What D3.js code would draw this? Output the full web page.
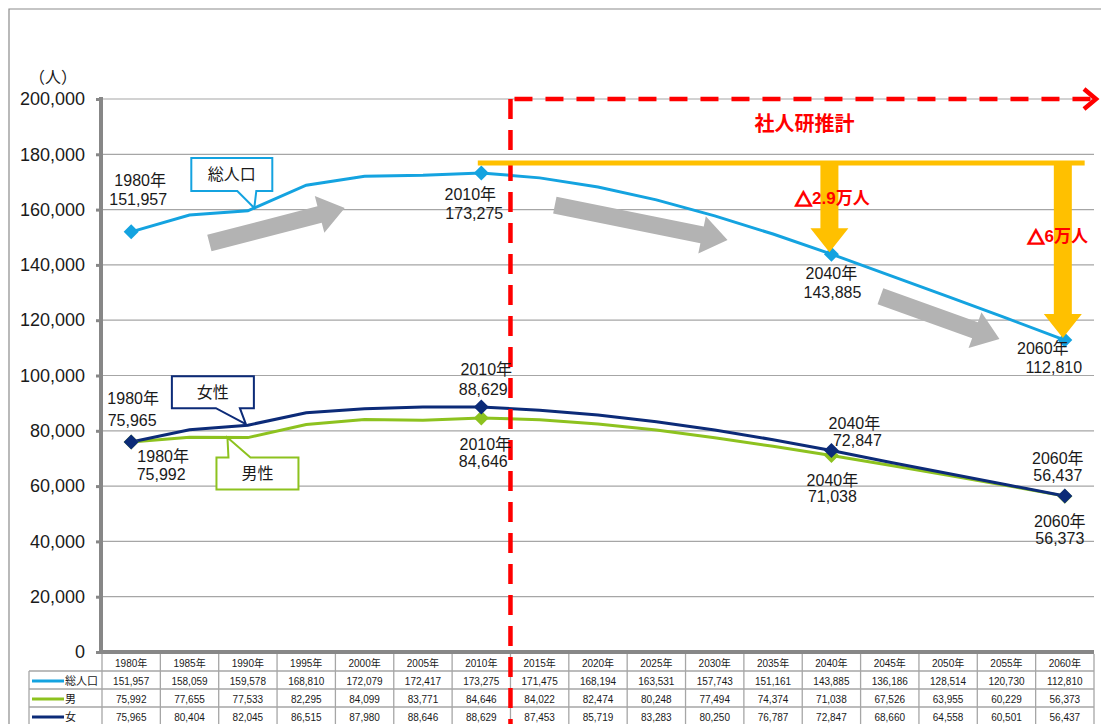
<!DOCTYPE html>
<html><head><meta charset="utf-8">
<script src="https://cdn.jsdelivr.net/npm/d3@7"></script>
<style>
body{margin:0;background:#fff}
svg{display:block}
text{font-family:"Liberation Sans",Arial,"Noto Sans CJK JP",sans-serif;fill:#1a1a1a}
</style>
</head><body>
<svg id="c" width="1101" height="724"></svg>
<script>
// ---------- data ----------
const years = [1980,1985,1990,1995,2000,2005,2010,2015,2020,2025,2030,2035,2040,2045,2050,2055,2060];
const yearLabels = years.map(y => y + "年");
const totalPop = [151957,158059,159578,168810,172079,172417,173275,171475,168194,163531,157743,151161,143885,136186,128514,120730,112810];
const male     = [75992,77655,77533,82295,84099,83771,84646,84022,82474,80248,77494,74374,71038,67526,63955,60229,56373];
const female   = [75965,80404,82045,86515,87980,88646,88629,87453,85719,83283,80250,76787,72847,68660,64558,60501,56437];
const yTicks   = [0,20000,40000,60000,80000,100000,120000,140000,160000,180000,200000];
const seriesNames = ["総人口","男","女"];
const markerYears = [1980,2010,2040,2060];
const projStartYear = 2012.5;         // 社人研推計 boundary
const baseLevel = 176850;             // level of the yellow reference line
const dropLabels = [["△","2.9万人"],["△","6万人"]];
const dropYears = [2040,2060];

// ---------- layout ----------
const W = 1101, H = 724;
const plot = {l:102, r:1094, t:99, b:652};
const svg = d3.select("#c");
const fmt = d3.format(",");

const xb = d3.scaleBand().domain(years).range([plot.l, plot.r]).paddingInner(0).paddingOuter(0);
const bw = xb.bandwidth();
const x = d => xb(d) + bw/2;
const xl = d3.scaleLinear().domain([years[0], years[years.length-1]]).range([x(years[0]), x(years[years.length-1])]);
const y = d3.scaleLinear().domain([0,200000]).range([plot.b, plot.t]);

const colors = {total:"#14A3E0", male:"#8DC21F", female:"#0C2B78"};
const gridC = "#A6A6A6", axisC = "#878787";

// outer frame
svg.append("path").attr("d",`M9,${H} L9,9 L${W},9`).attr("fill","none").attr("stroke","#8c8c8c").attr("stroke-width",1.2);

// grid
svg.append("g").selectAll("line").data(yTicks.filter(d=>d>0)).join("line")
  .attr("x1",plot.l).attr("x2",plot.r).attr("y1",d=>y(d)).attr("y2",d=>y(d))
  .attr("stroke",gridC).attr("stroke-width",1.2);

// y axis
const yAxis = svg.append("g").attr("transform",`translate(${plot.l-1},0)`)
  .call(d3.axisLeft(y).tickValues(yTicks).tickFormat(d=>fmt(d)).tickSize(5).tickPadding(11));
yAxis.select(".domain").remove();
yAxis.selectAll(".tick line").attr("stroke",axisC).attr("stroke-width",3);
yAxis.selectAll(".tick text").attr("font-size",18).attr("fill","#1a1a1a");
svg.append("line").attr("x1",plot.l-1).attr("x2",plot.l-1).attr("y1",plot.t-2).attr("y2",plot.b+2)
  .attr("stroke",axisC).attr("stroke-width",4);
svg.append("text").attr("x",53).attr("y",77).attr("text-anchor","middle").attr("dominant-baseline","central")
  .attr("font-size",16).text("（人）");

// ---------- table ----------
const tbl = svg.append("g");
const rowB = [654, 671, 689, 707, 725];
const legL = 29;
tbl.selectAll("line.v").data(years.concat(["end"])).join("line")
  .attr("x1",d=>d==="end"?plot.r:xb(d)).attr("x2",d=>d==="end"?plot.r:xb(d))
  .attr("y1",rowB[0]).attr("y2",H).attr("stroke",gridC).attr("stroke-width",1.3);
tbl.append("line").attr("x1",legL).attr("x2",legL).attr("y1",rowB[1]).attr("y2",H).attr("stroke",gridC).attr("stroke-width",1.3);
[1,2,3].forEach(i=>{
  tbl.append("line").attr("x1",legL).attr("x2",plot.r).attr("y1",rowB[i]).attr("y2",rowB[i]).attr("stroke",gridC).attr("stroke-width",1.3);
});
tbl.selectAll("text.h").data(years).join("text")
  .attr("x",d=>x(d)).attr("y",(rowB[0]+rowB[1])/2+1).attr("text-anchor","middle").attr("dominant-baseline","central")
  .attr("font-size",10).text((d,i)=>yearLabels[i]);
const rowsData = [totalPop, male, female];
const rowColors = [colors.total, colors.male, colors.female];
rowsData.forEach((arr,ri)=>{
  const cy = (rowB[ri+1]+rowB[ri+2])/2+1;
  tbl.append("g").selectAll("text").data(arr).join("text")
    .attr("x",(d,i)=>x(years[i])).attr("y",cy).attr("text-anchor","middle").attr("dominant-baseline","central")
    .attr("font-size",10).text(d=>fmt(d));
  tbl.append("line").attr("x1",32).attr("x2",64).attr("y1",cy).attr("y2",cy).attr("stroke",rowColors[ri]).attr("stroke-width",3);
  tbl.append("text").attr("x",65).attr("y",cy).attr("dominant-baseline","central").attr("font-size",11).text(seriesNames[ri]);
});

// x axis (thick baseline)
svg.append("line").attr("x1",plot.l-3).attr("x2",plot.r).attr("y1",plot.b).attr("y2",plot.b)
  .attr("stroke",axisC).attr("stroke-width",4);

// ---------- gray block arrows ----------
function blockArrow(x0,y0,x1,y1,shaft,head,headLen){
  const dx=x1-x0, dy=y1-y0, L=Math.hypot(dx,dy), ux=dx/L, uy=dy/L, px=-uy, py=ux;
  const bx=x1-ux*headLen, by=y1-uy*headLen;
  const p=[[x0+px*shaft/2,y0+py*shaft/2],[bx+px*shaft/2,by+py*shaft/2],[bx+px*head/2,by+py*head/2],[x1,y1],
           [bx-px*head/2,by-py*head/2],[bx-px*shaft/2,by-py*shaft/2],[x0-px*shaft/2,y0-py*shaft/2]];
  return "M"+p.map(q=>q.join(",")).join("L")+"Z";
}
const grayArrows = [
  {from:[1986.7,147900], to:[1998.3,160600]},
  {from:[2016.3,161600], to:[2031.1,149000]},
  {from:[2044.2,128700], to:[2054.4,113200]}
];
svg.append("g").selectAll("path").data(grayArrows).join("path")
  .attr("d",d=>blockArrow(xl(d.from[0]),y(d.from[1]),xl(d.to[0]),y(d.to[1]),17,38,26))
  .attr("fill","#B3B3B3");

// ---------- lines ----------
const line = d3.line().x((d,i)=>x(years[i])).y(d=>y(d));
svg.append("path").attr("d",line(male)).attr("fill","none").attr("stroke",colors.male).attr("stroke-width",3);
svg.append("path").attr("d",line(female)).attr("fill","none").attr("stroke",colors.female).attr("stroke-width",3);
svg.append("path").attr("d",line(totalPop)).attr("fill","none").attr("stroke",colors.total).attr("stroke-width",3);

// ---------- callouts ----------
function callout(tipX,tipY,box,base,color,label){
  const [l,t,r,b]=box.map((v,i)=>v+(i%2===0?tipX:tipY));
  const b1=base[0]+tipX, b2=base[1]+tipX;
  let d;
  if (tipY > b) d=`M${l},${t}L${r},${t}L${r},${b}L${b2},${b}L${tipX},${tipY}L${b1},${b}L${l},${b}Z`;
  else d=`M${l},${t}L${b1},${t}L${tipX},${tipY}L${b2},${t}L${r},${t}L${r},${b}L${l},${b}Z`;
  svg.append("path").attr("d",d).attr("fill","#fff").attr("stroke",color).attr("stroke-width",2);
  svg.append("text").attr("x",(l+r)/2).attr("y",(t+b)/2).attr("text-anchor","middle").attr("dominant-baseline","central")
    .attr("font-size",16).text(label);
}
const iOf = yr => years.indexOf(yr);
{
  const fx = 0.11, i=iOf(1990);
  const tx = x(years[i])+(x(years[i+1])-x(years[i]))*fx, ty = y(totalPop[i]+(totalPop[i+1]-totalPop[i])*fx);
  callout(tx,ty,[-63,-50,18,-17],[-17,2],colors.total,"総人口");
}
{
  const i=iOf(1990);
  const tx=x(years[i])-2, ty=y(female[i])-1;
  callout(tx,ty,[-74,-48,8,-16],[-30,-6],colors.female,"女性");
}
{
  const fx=-0.35, i=iOf(1990);
  const tx=x(years[i])+(x(years[i])-x(years[i-1]))*fx, ty=y(male[i]+(male[i]-male[i-1])*fx);
  callout(tx,ty,[-11,20,71,52],[1,23],colors.male,"男性");
}

// ---------- markers ----------
const diamond = "M0,-7.5L7.5,0L0,7.5L-7.5,0Z";
function markers(arr,color){
  svg.append("g").selectAll("path").data(markerYears).join("path")
    .attr("transform",d=>`translate(${x(d)},${y(arr[iOf(d)])})`).attr("d",diamond).attr("fill",color);
}
markers(male,colors.male);
markers(female,colors.female);
markers(totalPop,colors.total);

// ---------- red projection markers ----------
const red="#FF0000";
const px0 = xl(projStartYear);
svg.append("line").attr("x1",px0).attr("x2",px0).attr("y1",y(200000)).attr("y2",H)
  .attr("stroke",red).attr("stroke-width",4.5).attr("stroke-dasharray","20,11");
svg.append("line").attr("x1",px0).attr("x2",plot.r-2).attr("y1",y(200000)).attr("y2",y(200000))
  .attr("stroke",red).attr("stroke-width",4.5).attr("stroke-dasharray","18,13").attr("stroke-dashoffset",-4);
svg.append("path").attr("d",`M${plot.r-10},${y(200000)-10}L${plot.r+2},${y(200000)}L${plot.r-10},${y(200000)+10}`)
  .attr("fill","none").attr("stroke",red).attr("stroke-width",4.5);
svg.append("text").attr("x",xl(2037.7)).attr("y",y(200000)+23).attr("text-anchor","middle").attr("dominant-baseline","central")
  .attr("font-size",20).attr("font-weight","bold").style("font-family","'Noto Sans CJK JP',sans-serif").style("fill",red).text("社人研推計");

// ---------- yellow reference line & drop arrows ----------
const yellow="#FFC000";
svg.append("line").attr("x1",xl(2009.7)).attr("x2",xl(2061.7)).attr("y1",y(baseLevel)).attr("y2",y(baseLevel))
  .attr("stroke",yellow).attr("stroke-width",5);
dropYears.forEach((yr,k)=>{
  const cx=x(yr)-2, tipY=y(totalPop[iOf(yr)])-2, topY=y(baseLevel);
  svg.append("path").attr("d",blockArrow(cx,topY,cx,tipY,18,38,24)).attr("fill",yellow);
});
function redLabel(cx,cy,parts,fs){
  const t=svg.append("text").attr("x",cx).attr("y",cy).attr("text-anchor","middle").attr("dominant-baseline","central")
    .attr("font-size",fs).attr("font-weight","bold").style("fill",red);
  t.append("tspan").style("font-family","'Noto Sans CJK JP',sans-serif").style("stroke",red).style("stroke-width",1.6).text(parts[0]);
  t.append("tspan").text(parts[1]);
}
redLabel(x(2040)+1,198,dropLabels[0],17);
redLabel(x(2060)-7,236,dropLabels[1],17);

// ---------- data labels ----------
// [series, year, dx1, dy1, dx2, dy2] offsets of the two lines from the point
const seriesMap = {total:totalPop, male:male, female:female};
const labels = [
  ["total",1980, 9,-51, 7,-32],
  ["total",2010,-11,22,-7,41],
  ["total",2040, 0,19, 1,38],
  ["total",2060,-22,8,-11,27],
  ["female",1980, 2,-43, 1,-21],
  ["female",2010, 5,-37, 2,-17],
  ["female",2040, 23,-27, 26,-10],
  ["female",2060,-7,-37,-7,-20],
  ["male",1980, 32,15, 30,33],
  ["male",2010, 4,27, 2,44],
  ["male",2040, 1,25, 1,41],
  ["male",2060,-5,25,-5,42]
];
const lg = svg.append("g");
labels.forEach(([s,yr,dx1,dy1,dx2,dy2])=>{
  const v = seriesMap[s][iOf(yr)], px=x(yr), py=y(v);
  lg.append("text").attr("x",px+dx1).attr("y",py+dy1).attr("text-anchor","middle").attr("dominant-baseline","central")
    .attr("font-size",16).text(yearLabels[iOf(yr)]);
  lg.append("text").attr("x",px+dx2).attr("y",py+dy2).attr("text-anchor","middle").attr("dominant-baseline","central")
    .attr("font-size",16).text(fmt(v));
});
</script>
</body></html>
